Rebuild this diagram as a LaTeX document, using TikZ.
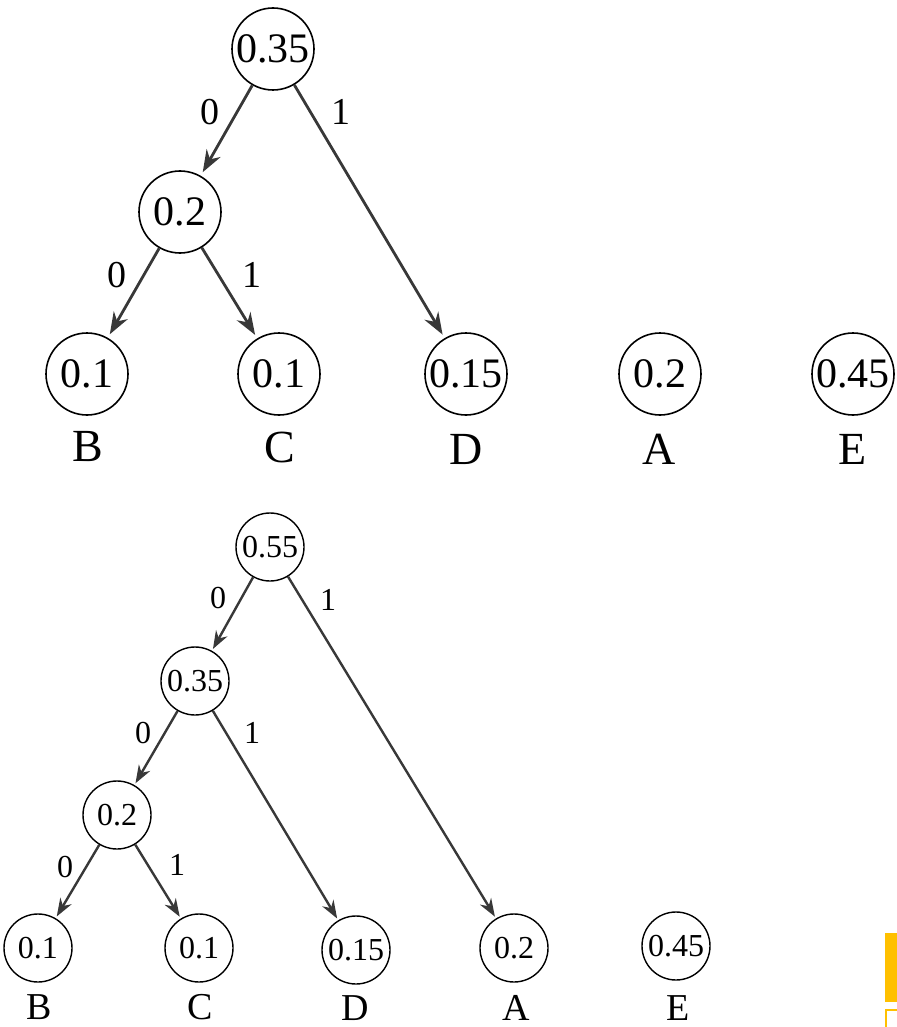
\documentclass[tikz,border=0pt]{standalone}
\usepackage{fontspec}
\setmainfont{Liberation Serif}
\usetikzlibrary{arrows.meta}
\definecolor{edgegray}{HTML}{383838}
\definecolor{scanyellow}{HTML}{FFC000}
\begin{document}
\begin{tikzpicture}[x=0.5pt,y=-0.5pt,
    bignode/.style={draw,circle,line width=0.8pt,inner sep=0pt,minimum size=41pt,font=\fontsize{21}{21}\selectfont},
    smallnode/.style={draw,circle,line width=0.7pt,inner sep=0pt,minimum size=34pt,font=\fontsize{16}{16}\selectfont},
    bigletter/.style={inner sep=0pt,font=\fontsize{23}{23}\selectfont},
    smallletter/.style={inner sep=0pt,font=\fontsize{19}{19}\selectfont},
    bigbit/.style={inner sep=0pt,font=\fontsize{19}{19}\selectfont},
    smallbit/.style={inner sep=0pt,font=\fontsize{16}{16}\selectfont},
    bigarrow/.style={draw=edgegray,line width=1.4pt,-{Stealth[length=11pt,width=8pt]},shorten >=2pt},
    smallarrow/.style={draw=edgegray,line width=1.2pt,-{Stealth[length=9pt,width=6.5pt]},shorten >=1pt}]
\useasboundingbox (0,0) rectangle (897,1027);
    % first step
    \node[bignode] (t35) at (273,49) {0.35};
    \node[bignode] (t2) at (180,212) {0.2};
    \node[bignode] (tB) at (87,374) {0.1};
    \node[bignode] (tC) at (279,374) {0.1};
    \node[bignode] (tD) at (466,374) {0.15};
    \node[bignode] (tA) at (660,374) {0.2};
    \node[bignode] (tE) at (853,374) {0.45};
    \node[bigletter] (tBl) at (88,447) {B};
    \node[bigletter] (tCl) at (280,447) {C};
    \node[bigletter] (tDl) at (466,449) {D};
    \node[bigletter] (tAl) at (659,449) {A};
    \node[bigletter] (tEl) at (853,449) {E};
    \draw[bigarrow] (t35) -- (t2);
    \draw[bigarrow] (t35) -- (tD);
    \draw[bigarrow] (t2) -- (tB);
    \draw[bigarrow] (t2) -- (tC);
    \node[bigbit] (t35z) at (210,112) {0};
    \node[bigbit] (t35o) at (341,112) {1};
    \node[bigbit] (t2z) at (117,275) {0};
    \node[bigbit] (t2o) at (252,275) {1};
    % second step
    \node[smallnode] (b55) at (270,547) {0.55};
    \node[smallnode] (b35) at (195,681) {0.35};
    \node[smallnode] (b2) at (117,815) {0.2};
    \node[smallnode] (bB) at (38,948) {0.1};
    \node[smallnode] (bC) at (199,948) {0.1};
    \node[smallnode] (bD) at (356,950) {0.15};
    \node[smallnode] (bA) at (514,948) {0.2};
    \node[smallnode] (bE) at (676,946) {0.45};
    \node[smallletter] (bBl) at (39,1007) {B};
    \node[smallletter] (bCl) at (200,1007) {C};
    \node[smallletter] (bDl) at (355,1008) {D};
    \node[smallletter] (bAl) at (516,1008) {A};
    \node[smallletter] (bEl) at (678,1008) {E};
    \draw[smallarrow] (b55) -- (b35);
    \draw[smallarrow] (b55) -- (bA);
    \draw[smallarrow] (b35) -- (b2);
    \draw[smallarrow] (b35) -- (bD);
    \draw[smallarrow] (b2) -- (bB);
    \draw[smallarrow] (b2) -- (bC);
    \node[smallbit] (b55z) at (218,598) {0};
    \node[smallbit] (b55o) at (328,600) {1};
    \node[smallbit] (b35z) at (143,733) {0};
    \node[smallbit] (b35o) at (252,733) {1};
    \node[smallbit] (b2z) at (65,867) {0};
    \node[smallbit] (b2o) at (177,865) {1};
    \fill[scanyellow] (885,933) rectangle (897,1002);
    \draw[scanyellow,line width=1pt] (886,1027) -- (886,1010) -- (897,1010);
\end{tikzpicture}
\end{document}
